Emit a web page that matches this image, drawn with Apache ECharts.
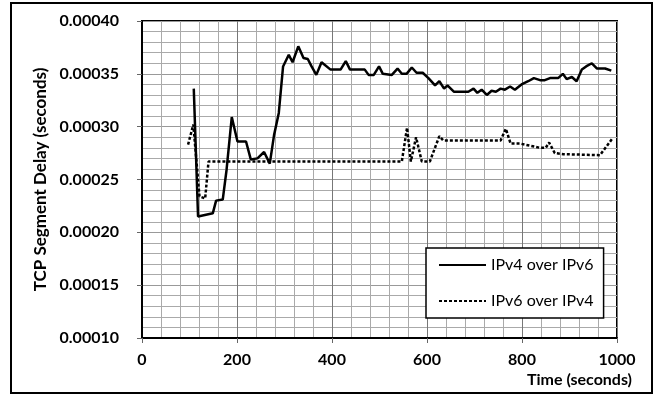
<!DOCTYPE html>
<html>
<head>
<meta charset="utf-8">
<script src="https://cdn.jsdelivr.net/npm/echarts@6/dist/echarts.min.js"></script>
<style>
  html, body { margin: 0; padding: 0; background: #fff; }
  #chart { width: 656px; height: 396px; }
</style>
</head>
<body>
<div id="chart"></div>
<script>
// values
const seriesNames = ['IPv4 over IPv6', 'IPv6 over IPv4'];

const ipv4Time = [109, 118, 149, 156, 170, 178, 189, 201, 219, 229, 243, 257, 269, 278, 288, 297,
    309, 317, 329, 340, 349, 357, 367, 378, 397, 418, 429, 438, 469, 477, 488, 499, 507, 526,
    538, 547, 557, 568, 578, 591, 603, 617, 626, 636, 643, 657, 687, 698, 706, 715, 726, 736,
    745, 755, 764, 775, 785, 799, 813, 825, 838, 848, 859, 876, 886, 894, 905, 915, 926, 935,
    947, 958, 975, 988];
const ipv4Delay = [0.000336, 0.000215, 0.000218, 0.000230, 0.000231, 0.000259, 0.000309, 0.000286,
    0.000286, 0.000269, 0.000270, 0.000276, 0.000265, 0.000292, 0.000313, 0.000357, 0.000368,
    0.000361, 0.000376, 0.000365, 0.000364, 0.000357, 0.000349, 0.000361, 0.000354, 0.000354,
    0.000362, 0.000354, 0.000354, 0.000349, 0.000349, 0.000357, 0.000350, 0.000349, 0.000355,
    0.000350, 0.000350, 0.000356, 0.000351, 0.000351, 0.000346, 0.000339, 0.000343, 0.000336,
    0.000339, 0.000333, 0.000333, 0.000336, 0.000332, 0.000335, 0.000330, 0.000334, 0.000333,
    0.000336, 0.000335, 0.000338, 0.000335, 0.000340, 0.000343, 0.000346, 0.000344, 0.000344,
    0.000346, 0.000346, 0.000350, 0.000345, 0.000347, 0.000343, 0.000354, 0.000357, 0.000360,
    0.000355, 0.000355, 0.000353];

const ipv6Time = [97, 108, 121, 133, 140, 547, 558, 566, 577, 589, 606, 626, 634, 755, 766, 776,
    796, 838, 850, 857, 869, 887, 964, 989];
const ipv6Delay = [0.000283, 0.000302, 0.000234, 0.000232, 0.000267, 0.000267, 0.000299, 0.000267,
    0.000290, 0.000267, 0.000267, 0.000291, 0.000287, 0.000287, 0.000298, 0.000284, 0.000284,
    0.000280, 0.000280, 0.000285, 0.000275, 0.000274, 0.000273, 0.000288];

const xTicks = [0, 200, 400, 600, 800, 1000];
const yTicks = [0.00010, 0.00015, 0.00020, 0.00025, 0.00030, 0.00035, 0.00040];

const FONT = 'Lato';
const chart = echarts.init(document.getElementById('chart'));

const option = {
    backgroundColor: '#fff',
    animation: false,
    grid: {
        left: 142,
        right: 39,
        top: 21,
        bottom: 58,
        show: true,
        borderColor: '#000',
        borderWidth: 2,
    },
    legend: {
        left: 426,
        top: 248,
        orient: 'vertical',
        padding: [9, 10, 9, 12],
        itemGap: 20,
        itemWidth: 47,
        itemHeight: 14,
        borderColor: '#000',
        borderWidth: 1.5,
        backgroundColor: '#fff',
        data: seriesNames,
        itemStyle: { opacity: 0 },
        textStyle: {
            fontFamily: FONT,
            fontSize: 16,
            color: '#000',
        },
    },
    xAxis: {
        type: 'value',
        min: xTicks[0],
        max: xTicks[xTicks.length - 1],
        interval: 200,
        name: 'Time (seconds)',
        nameLocation: 'end',
        nameGap: 15,
        nameTextStyle: {
            fontFamily: FONT,
            fontWeight: 'bold',
            fontSize: 16,
            color: '#000',
            align: 'right',
            verticalAlign: 'top',
            padding: [34, 0, 0, 0],
        },
        axisLine: { show: true, lineStyle: { color: '#000', width: 2 } },
        axisTick: { show: true, length: 5, lineStyle: { color: '#666' } },
        axisLabel: {
            margin: 14,
            fontFamily: FONT,
            fontWeight: 'bold',
            fontSize: 16,
            color: '#000',
            formatter: (v) => String(v),
        },
        splitLine: { show: true, lineStyle: { color: '#777', width: 1 } },
        minorTick: { show: false, splitNumber: 5 },
        minorSplitLine: { show: true, lineStyle: { color: '#aaa', width: 1 } },
    },
    yAxis: {
        type: 'value',
        min: yTicks[0],
        max: yTicks[yTicks.length - 1],
        interval: 0.00005,
        name: 'TCP Segment Delay (seconds)',
        nameLocation: 'middle',
        nameGap: 84,
        nameTextStyle: {
            fontFamily: FONT,
            fontWeight: 'bold',
            fontSize: 17,
            color: '#000',
        },
        axisLine: { show: true, lineStyle: { color: '#000', width: 2 } },
        axisTick: { show: true, length: 5, lineStyle: { color: '#666' } },
        axisLabel: {
            margin: 23,
            fontFamily: FONT,
            fontWeight: 'bold',
            fontSize: 16,
            color: '#000',
            formatter: (v) => v.toFixed(5),
        },
        splitLine: { show: true, lineStyle: { color: '#999', width: 1 } },
        minorTick: { show: false, splitNumber: 5 },
        minorSplitLine: { show: true, lineStyle: { color: '#aaa', width: 1 } },
    },
    series: [
        {
            name: seriesNames[0],
            type: 'line',
            symbol: 'none',
            data: ipv4Time.map((t, i) => [t, ipv4Delay[i]]),
            lineStyle: { color: '#000', width: 2.5 },
            itemStyle: { color: '#000' },
        },
        {
            name: seriesNames[1],
            type: 'line',
            symbol: 'none',
            data: ipv6Time.map((t, i) => [t, ipv6Delay[i]]),
            lineStyle: { color: '#000', width: 2.5, type: [3, 2] },
            itemStyle: { color: '#000' },
        },
    ],
    graphic: [{
        type: 'rect',
        silent: true,
        shape: { x: 11, y: 3, width: 641, height: 390 },
        style: { fill: null, stroke: '#000', lineWidth: 2 },
    }],
};

chart.setOption(option);
</script>
</body>
</html>
